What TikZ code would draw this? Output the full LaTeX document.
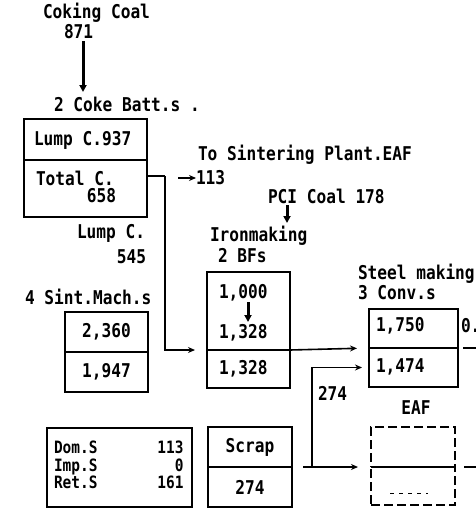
\documentclass[tikz,border=0pt]{standalone}
\usepackage{fontspec}
\setmainfont{DejaVu Sans Mono}[FakeStretch=0.85]
\usetikzlibrary{arrows.meta}
\begin{document}
\begin{tikzpicture}[x=1pt,y=-1pt,
  line width=1.8pt,
  every node/.style={font=\fontsize{19}{19}\selectfont\bfseries, inner sep=0pt, outer sep=0pt},
  txt/.style={anchor=west},
  txte/.style={anchor=east},
  cell/.style={draw, rectangle, inner sep=0pt, outer sep=0pt},
  dcell/.style={cell, dash pattern=on 9pt off 4pt},
  arr/.style={-{Stealth[length=7pt,width=6pt]}, line width=1.6pt},
  bigarr/.style={-{Triangle[length=7pt,width=7pt]}, line width=3pt}]
\useasboundingbox (0,0) rectangle (476,514);

% texts
\node[txt] (coal) at (43,13) {Coking Coal};
\node[txt] (c871) at (64,32) {871};
\node[txt] (batt) at (54,104) {2 Coke Batt.s .};
\node[txt] (tosint) at (198,155) {To Sintering Plant.EAF};
\node[txt] (n113) at (196,178) {113};
\node[txt] (pci) at (268,196) {PCI Coal 178};
\node[txt] (iron) at (210,236) {Ironmaking};
\node[txt] (bfs) at (218,256) {2 BFs};
\node[txt] (lumpl) at (77,233) {Lump C.};
\node[txte] (n545) at (146,257) {545};
\node[txt] (sintl) at (25,297) {4 Sint.Mach.s};
\node[txt] (steel) at (358,274) {Steel making};
\node[txt] (conv) at (358,293) {3 Conv.s};
\node[txt] (n274) at (318,393) {274};
\node (eafl) at (416,408) {EAF};

% cells
\node[cell, minimum width=123pt, minimum height=41pt] (lumpc) at (85.5,139.5) {};
\node[cell, minimum width=123pt, minimum height=57pt] (totalc) at (85.5,188.5) {};
\node[txt] at (34,140) {Lump C.937};
\node[txt] at (36,178) {Total C.};
\node[txte] at (116,196) {658};

\node[cell, minimum width=83pt, minimum height=40pt] (sinttop) at (106.5,332) {2,360};
\node[cell, minimum width=83pt, minimum height=40pt] (sintbot) at (106.5,372) {1,947};

\node[cell, minimum width=83pt, minimum height=78pt] (bftop) at (248.5,311) {};
\node[cell, minimum width=83pt, minimum height=38pt] (bfbot) at (248.5,369) {};
\node[txt] (b1000) at (219,293) {1,000};
\node[txt] (b1328a) at (219,333) {1,328};
\node[txt] at (219,369) {1,328};

\node[cell, minimum width=89pt, minimum height=39pt] (convtop) at (413.5,328.5) {};
\node[cell, minimum width=89pt, minimum height=39pt] (convbot) at (413.5,367.5) {};
\node[txt] at (376,326) {1,750};
\node[txt] (r09) at (461,326) {0.9};
\node[txt] at (376,367) {1,474};

\node[dcell, minimum width=84pt, minimum height=40pt] (eaftop) at (413,447) {};
\node[dcell, minimum width=84pt, minimum height=38pt] (eafbot) at (413,486) {};
\draw (eaftop.south west) -- (eaftop.south east);
\draw[line width=1pt, dash pattern=on 4pt off 5pt] (390,493) -- (428,493);

\node[cell, minimum width=145pt, minimum height=79pt] (slag) at (119.5,467.5) {};
\node[anchor=west, font=\fontsize{17}{16.5}\selectfont\bfseries] at (54,467.5) {%
  \begin{tabular}{@{}l@{\hspace{60pt}}r@{}}
  Dom.S & 113\\
  Imp.S & 0\\
  Ret.S & 161
  \end{tabular}};

\node[cell, minimum width=84pt, minimum height=40pt] (scraptop) at (250,447) {Scrap};
\node[cell, minimum width=84pt, minimum height=40pt] (scrapbot) at (250,487) {274};

% connectors
\draw[bigarr] (83,41) -- (83,92);
\draw[bigarr] (287,205) -- (287,223);
\draw[bigarr] (248,302) -- (248,322);

\coordinate (j1) at (165,176);
\draw (j1 -| totalc.east) -- (j1);
\draw[arr, shorten >=12pt] (j1) |- (bftop.south west);
\coordinate (s113) at (178,178);
\draw[arr] (s113) -- (n113.west);

\draw[arr, shorten >=12pt] (bftop.south east) -- (convtop.south west);
\draw[arr, shorten <=11pt, shorten >=13pt] (scraptop.south east) -- (eaftop.south west);
\coordinate (j2) at (312,467);
\draw[arr, shorten >=7pt] (j2) |- (convbot.west);

\draw[shorten <=5pt] (convtop.south east) -- (476,348);
\draw[shorten <=9pt] (eaftop.south east) -- (476,467);
\end{tikzpicture}
\end{document}
